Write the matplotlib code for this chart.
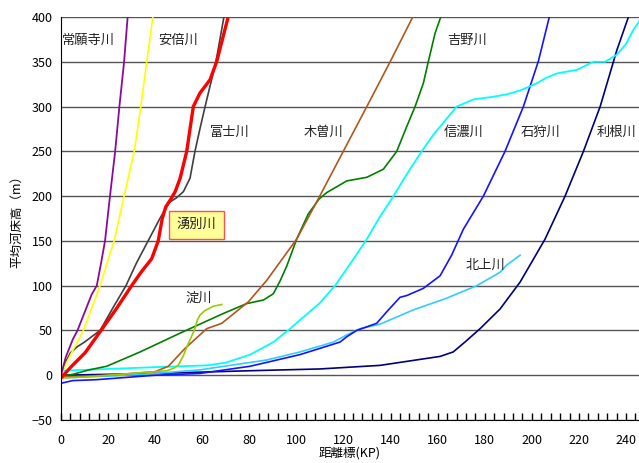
import matplotlib
matplotlib.use('Agg')
import matplotlib.pyplot as plt
from matplotlib.ticker import MultipleLocator

plt.rcParams['font.family'] = ['Noto Sans CJK JP', 'DejaVu Sans']

# river profiles: distance (KP), mean bed elevation (m)
tone_x = [0, 40, 80, 110, 135.5, 161, 166.6, 172, 178, 186.5, 195, 199.2, 205.6, 214.1, 221.9, 229, 236.1, 241]
tone_y = [0, 2, 5, 7, 11, 21, 26, 38, 52, 74, 104, 123, 152, 200, 250, 300, 363, 400]

kitakami_x = [0, 20, 40, 59, 87.4, 101.5, 115.7, 121.4, 127, 135.5, 149.7, 163.8, 176.6, 186.5, 189.3, 195]
kitakami_y = [-3, -1, 2, 6, 17, 26, 37, 45, 52, 57, 73, 86, 100, 115, 123, 134]

ishikari_x = [0, 5, 15, 25, 40, 59, 80.3, 101.5, 118.5, 121.4, 125.6, 134.1, 138.4, 144, 146.9, 153.9, 161, 165.9, 170.9, 179.4, 188.6, 196.4, 202.8, 207.4]
ishikari_y = [-9, -6, -5, -3, 0, 2, 10, 23, 37, 43, 50, 58, 71, 87, 89, 97, 111, 134, 163, 200, 250, 300, 351, 400]

shinano_x = [0, 20, 40, 61.9, 70, 80.3, 90.2, 97.3, 103, 109.7, 116.4, 123, 129.9, 135, 141.2, 147, 153.2, 158,
             162.4, 168.1, 175.2, 183.7, 190, 195, 202.1, 206, 210.6, 219.1, 226.1, 231.1, 236.1, 240, 243.2, 245.5]
shinano_y = [5, 7, 9, 11, 14, 23, 37, 52, 65, 80, 100, 125, 152, 175, 200, 225, 250, 268,
             282, 300, 308, 311, 314, 318, 326, 332, 337, 341, 350, 350, 358, 370, 386, 395]

yoshino_x = [0, 5, 12, 19.4, 33.6, 50.6, 69, 78.9, 86, 90.2, 93, 95.9, 100.1, 105, 109.7, 112.9, 121.4, 129.9,
             136.9, 142.6, 146.9, 150.4, 153.9, 156, 158.9, 161.3]
yoshino_y = [-1, 1, 6, 10, 26, 47, 69, 80, 84, 91, 105, 122, 152, 180, 197, 204, 217, 221,
             230, 250, 278, 300, 326, 350, 382, 400]

kiso_x = [0, 20, 40, 45.6, 52.7, 61.9, 68.3, 79.6, 87.4, 100.1, 109.7, 119.9, 129.9, 139.8, 149.4]
kiso_y = [-2, 0, 4, 10, 30, 52, 58, 82, 106, 152, 199, 250, 300, 350, 400]

yodo_x = [0, 10, 20, 30, 40, 45, 48, 49.8, 52, 54, 56.6, 58, 59, 61, 64.7, 68.3]
yodo_y = [-3, -2, 0, 2, 4, 5, 8, 11, 22, 35, 50, 62, 67, 72, 77, 79]

fuji_x = [0, 2, 4, 7, 10, 13, 16.6, 22, 27.6, 32, 37, 42, 46, 49, 52, 54.8, 56.9, 59, 61.2, 63.5, 65.8, 67.5, 69.2]
fuji_y = [0, 15, 25, 32, 37, 43, 50, 75, 100, 125, 150, 175, 193, 198, 205, 220, 250, 275, 300, 325, 350, 375, 400]

abe_x = [0, 2, 4.5, 9.5, 13, 16.6, 19.5, 22.6, 26.8, 31.1, 33.9, 36.4, 39]
abe_y = [0, 12, 25, 50, 75, 100, 125, 150, 200, 250, 300, 350, 400]

joganji_x = [0, 2, 5, 7, 10, 13, 15.2, 17, 18.7, 20.8, 23, 24.8, 26.8, 28.3]
joganji_y = [0, 20, 40, 50, 70, 90, 100, 125, 150, 200, 250, 300, 350, 400]

yubetsu_x = [0, 4.5, 10.2, 17, 23.7, 30, 34, 38.5, 41.3, 43, 44.5, 46.5, 48.5, 50.6, 53.4, 56.2, 59, 63.3, 66.1, 71]
yubetsu_y = [-3, 10, 25, 50, 75, 100, 115, 130, 150, 175, 188, 196, 205, 220, 250, 300, 315, 330, 350, 400]

rivers = [
    (tone_x, tone_y, '#000080', 1.2),
    (kitakami_x, kitakami_y, '#33CCFF', 1.2),
    (ishikari_x, ishikari_y, '#1414FF', 1.2),
    (shinano_x, shinano_y, '#00FFFF', 1.3),
    (yoshino_x, yoshino_y, '#008000', 1.2),
    (kiso_x, kiso_y, '#B5561E', 1.2),
    (yodo_x, yodo_y, '#99CC00', 1.2),
    (fuji_x, fuji_y, '#404040', 1.2),
    (abe_x, abe_y, '#FFFF00', 1.2),
    (joganji_x, joganji_y, '#8B0A9B', 1.3),
    (yubetsu_x, yubetsu_y, '#FF0000', 2.4),
]

# river name labels (x, y)
labels = [
    ('常願寺川', 11.5, 374), ('安倍川', 49.8, 374), ('富士川', 71.8, 271),
    ('木曽川', 111.3, 271), ('吉野川', 172.3, 374), ('信濃川', 170.9, 271),
    ('石狩川', 203.5, 271), ('利根川', 236, 271), ('淀川', 58.6, 85.5),
    ('北上川', 180.4, 123),
]

fig = plt.figure(figsize=(6.39, 4.63), dpi=100)
ax = fig.add_axes([61 / 639, 1 - 420 / 463, 1 - 61 / 639, (420 - 17) / 463])

for xs, ys, c, lw in rivers:
    ax.plot(xs, ys, color=c, lw=lw)

for name, x, y in labels:
    ax.text(x, y, name, ha='center', va='center', fontsize=9.5, color='#222222')

ax.text(57.6, 168, '湧別川', ha='center', va='center', fontsize=9.5, color='#222222',
        bbox=dict(boxstyle='square,pad=0.55', fc='#FFFF99', ec='#FF5050', lw=1))

ax.set_xlim(0, 245.5)
ax.set_ylim(-50, 400)
ax.xaxis.set_major_locator(MultipleLocator(20))
ax.xaxis.set_minor_locator(MultipleLocator(4))
ax.yaxis.set_major_locator(MultipleLocator(50))
ax.tick_params(axis='x', which='both', direction='in', length=5, width=1, labelsize=9, pad=10)
ax.tick_params(axis='y', length=0, labelsize=9, pad=6)
ax.yaxis.grid(True, color='#555555', lw=1)
ax.set_axisbelow(True)
for s in ['top', 'right']:
    ax.spines[s].set_visible(False)
ax.spines['left'].set_color('black')
ax.spines['bottom'].set_color('black')

ax.set_xlabel('距離標(KP)', fontsize=9, labelpad=0)
ax.set_ylabel('平均河床高（m）', fontsize=9, labelpad=6)

fig.savefig('out.png', dpi=100)
